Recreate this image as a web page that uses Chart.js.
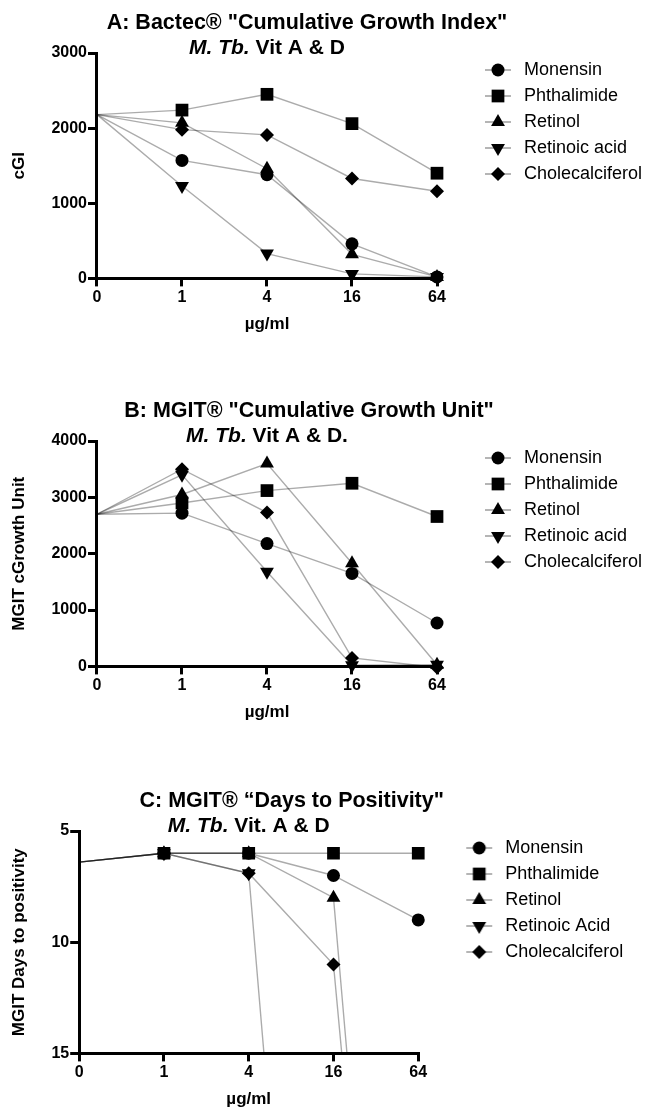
<!DOCTYPE html>
<html>
<head>
<meta charset="utf-8">
<script src="https://cdn.jsdelivr.net/npm/chart.js@4/dist/chart.umd.min.js"></script>
<style>
  body { margin: 0; background: #fff; }
  #wrap { position: relative; width: 649px; height: 1116px; overflow: hidden; }
  canvas { position: absolute; left: 0; }
</style>
</head>
<body>
<div id="wrap">
  <canvas id="chartA" width="649" height="388" style="top:0px"></canvas>
  <canvas id="chartB" width="649" height="390" style="top:388px"></canvas>
  <canvas id="chartC" width="649" height="338" style="top:778px"></canvas>
</div>
<script>
// x categories (µg/ml) and series names
const doses = ['0', '1', '4', '16', '64'];
const drugNames = ['Monensin', 'Phthalimide', 'Retinol', 'Retinoic acid', 'Cholecalciferol'];
const drugNamesC = ['Monensin', 'Phthalimide', 'Retinol', 'Retinoic Acid', 'Cholecalciferol'];

// A: Bactec cumulative growth index
const cgiMonensin = [2180, 1570, 1380, 460, 20];
const cgiPhthalimide = [2180, 2240, 2450, 2060, 1400];
const cgiRetinol = [2180, 2070, 1460, 320, 20];
const cgiRetinoicAcid = [2180, 1230, 330, 60, 20];
const cgiCholecalciferol = [2180, 1980, 1910, 1330, 1160];

// B: MGIT cumulative growth unit
const cguMonensin = [2700, 2720, 2180, 1650, 770];
const cguPhthalimide = [2700, 2900, 3120, 3250, 2660];
const cguRetinol = [2700, 3050, 3600, 1830, 30];
const cguRetinoicAcid = [2700, 3400, 1680, 20, 30];
const cguCholecalciferol = [2700, 3500, 2730, 150, -20];

// C: MGIT days to positivity (values past 15 run off the axis)
const dtpMonensin = [6.4, 6.0, 6.0, 7.0, 9.0];
const dtpPhthalimide = [6.4, 6.0, 6.0, 6.0, 6.0];
const dtpRetinol = [6.4, 6.0, 6.0, 8.0, 52];
const dtpRetinoicAcid = [6.4, 6.0, 6.9, 52, 52];
const dtpCholecalciferol = [6.4, 6.0, 6.9, 11.0, 52];

// marker look per series
const markerStyles = ['circle', 'rect', 'triangle', 'triangle', 'rectRot'];
const markerRotations = [0, 0, 0, 180, 0];
const markerRadii = [6.5, 9, 8, 8, 7];

const FONT = '"Liberation Sans", Arial, Helvetica, sans-serif';
Chart.defaults.font.family = FONT;
Chart.defaults.color = '#000';

// legend icon: short grey line with the marker on it
function legendIcon(i) {
  const c = document.createElement('canvas');
  c.width = 72;
  c.height = 22;
  const g = c.getContext('2d');
  g.strokeStyle = 'rgba(0,0,0,0.45)';
  g.lineWidth = 1.3;
  g.beginPath();
  g.moveTo(41, 11);
  g.lineTo(67, 11);
  g.stroke();
  g.fillStyle = '#000';
  g.strokeStyle = '#000';
  Chart.helpers.drawPoint(g, {
    pointStyle: markerStyles[i],
    rotation: markerRotations[i],
    radius: markerRadii[i],
    borderWidth: 0
  }, 54, 11);
  return c;
}
const legendIcons = markerStyles.map((s, i) => legendIcon(i));

// the legend box is capped narrow by the layout; let it use the space up to the edge
const legendRoom = {
  id: 'legendRoom',
  beforeDraw(chart) {
    const lg = chart.legend;
    if (lg) {
      lg.right = chart.width;
      lg.width = lg.right - lg.left;
    }
  }
};

// title + mixed italic subtitle, drawn above the plot
const panelTitle = {
  id: 'panelTitle',
  afterDraw(chart, args, opts) {
    const { ctx, chartArea } = chart;
    const cx = (chartArea.left + chartArea.right) / 2;
    ctx.save();
    ctx.fillStyle = '#000';
    ctx.textBaseline = 'alphabetic';
    ctx.textAlign = 'center';
    ctx.font = 'bold 21.5px ' + FONT;
    ctx.fillText(opts.title, cx + opts.dx, chartArea.top - 24);

    const italicFont = 'italic bold 21px ' + FONT;
    const plainFont = 'bold 21px ' + FONT;
    ctx.font = italicFont;
    const w1 = ctx.measureText(opts.italic).width;
    ctx.font = plainFont;
    const w2 = ctx.measureText(opts.rest).width;
    const x = cx - (w1 + w2) / 2;
    const y = chartArea.top + 0.5;
    ctx.textAlign = 'left';
    ctx.font = italicFont;
    ctx.fillText(opts.italic, x, y);
    ctx.font = plainFont;
    ctx.fillText(opts.rest, x + w1, y);
    ctx.restore();
  }
};

function makeDatasets(seriesList, names, clip) {
  return seriesList.map((data, i) => ({
    label: names[i],
    data: data,
    borderColor: 'rgba(0,0,0,0.33)',
    borderWidth: 1.4,
    backgroundColor: '#000',
    pointStyle: markerStyles[i],
    pointRotation: markerRotations[i],
    pointRadius: data.map((v, j) => (j === 0 ? 0 : markerRadii[i])),
    pointHoverRadius: markerRadii[i],
    pointBackgroundColor: '#000',
    pointBorderColor: '#000',
    pointBorderWidth: 0,
    tension: 0,
    clip: clip
  }));
}

function xScale() {
  return {
    type: 'category',
    labels: doses,
    offset: false,
    ticks: { font: { size: 16, weight: 'bold' }, color: '#000', padding: 2, autoSkip: false, maxRotation: 0 },
    grid: { display: true, drawOnChartArea: false, drawTicks: true, tickLength: 8, color: '#000', lineWidth: 3, offset: false },
    border: { display: true, color: '#000', width: 3 },
    title: { display: true, text: 'µg/ml', color: '#000', font: { size: 17, weight: 'bold' }, padding: { top: 5, bottom: 4 } }
  };
}

function yScale(min, max, step, title, reverse) {
  return {
    min: min,
    max: max,
    reverse: reverse,
    ticks: {
      stepSize: step,
      font: { size: 16, weight: 'bold' },
      color: '#000',
      padding: 1,
      callback: (value) => String(value)
    },
    grid: { display: true, drawOnChartArea: false, drawTicks: true, tickLength: 9, color: '#000', lineWidth: 3 },
    border: { display: true, color: '#000', width: 3 },
    title: { display: true, text: title, color: '#000', font: { size: 17, weight: 'bold' }, padding: { top: 4, bottom: 21 } }
  };
}

function legendOptions() {
  return {
    display: true,
    position: 'right',
    align: 'start',
    labels: {
      usePointStyle: true,
      pointStyleWidth: 70,
      padding: 8,
      color: '#000',
      font: { size: 18 },
      generateLabels(chart) {
        const items = Chart.defaults.plugins.legend.labels.generateLabels(chart);
        items.forEach((it, i) => {
          it.pointStyle = legendIcons[i];
          it.rotation = 0;
          it.fontColor = '#000';
        });
        return items;
      }
    }
  };
}

function makePanel(id, datasets, y, titleOpts, padding) {
  return new Chart(document.getElementById(id), {
    type: 'line',
    data: { labels: doses, datasets: datasets },
    options: {
      responsive: false,
      animation: false,
      layout: { padding: padding },
      scales: { x: xScale(), y: y },
      plugins: {
        legend: legendOptions(),
        title: { display: false },
        tooltip: { enabled: false },
        panelTitle: titleOpts
      }
    },
    plugins: [legendRoom, panelTitle]
  });
}

makePanel('chartA',
  makeDatasets([cgiMonensin, cgiPhthalimide, cgiRetinol, cgiRetinoicAcid, cgiCholecalciferol], drugNames, false),
  yScale(0, 3000, 1000, 'cGI', false),
  { title: 'A: Bactec® "Cumulative Growth Index"', italic: 'M. Tb.', rest: ' Vit A & D', dx: 40 },
  { top: 53, left: 5, right: 68, bottom: 49 });

makePanel('chartB',
  makeDatasets([cguMonensin, cguPhthalimide, cguRetinol, cguRetinoicAcid, cguCholecalciferol], drugNames, false),
  yScale(0, 4000, 1000, 'MGIT cGrowth Unit', false),
  { title: 'B: MGIT® "Cumulative Growth Unit"', italic: 'M. Tb.', rest: ' Vit A & D.', dx: 42 },
  { top: 53, left: 5, right: 68, bottom: 51 });

makePanel('chartC',
  makeDatasets([dtpMonensin, dtpPhthalimide, dtpRetinol, dtpRetinoicAcid, dtpCholecalciferol], drugNamesC,
    { left: false, top: false, right: false, bottom: 0 }),
  yScale(5, 15, 10, 'MGIT Days to positivity', true),
  { title: 'C: MGIT® \u201CDays to Positivity"', italic: 'M. Tb.', rest: ' Vit. A & D', dx: 43 },
  { top: 53, left: 5, right: 93, bottom: 2 });
</script>
</body>
</html>
